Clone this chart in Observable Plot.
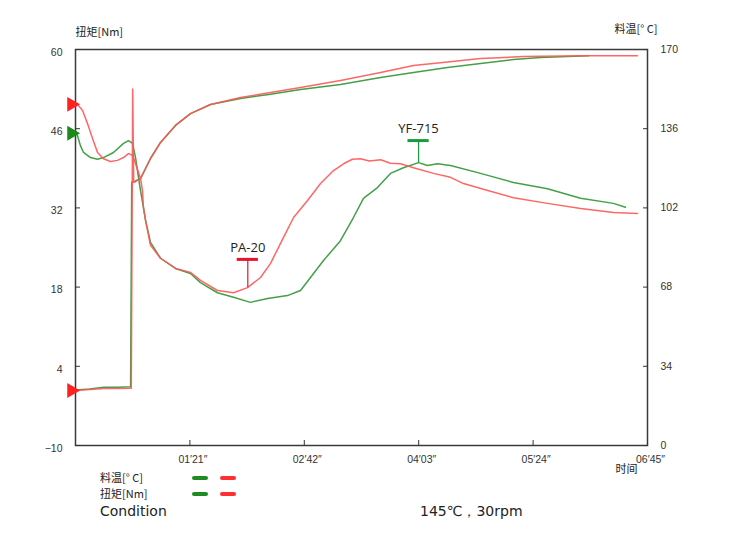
<!DOCTYPE html>
<html><head><meta charset="utf-8">
<script src="https://cdn.jsdelivr.net/npm/d3@7"></script>
<script src="https://cdn.jsdelivr.net/npm/@observablehq/plot@0.6"></script>
<style>
body{margin:0;background:#fff;}
#wrap{position:relative;width:731px;height:545px;background:#fff;}
.lg{position:absolute;font-family:"Noto Sans CJK SC",sans-serif;font-size:11px;color:#222;line-height:1;white-space:nowrap;}
.big{font-family:"DejaVu Sans","Noto Sans",sans-serif;font-size:14px;color:#222;}
.dash{position:absolute;width:16px;height:4px;border-radius:2px;}
</style></head><body><div id="wrap"></div>
<script>
// ---- data (time in seconds, torque in Nm, temperature in °C) ----
const xTicks = [81, 162, 243, 324, 405];
const xTickLabels = ["01′21″", "02′42″", "04′03″", "05′24″", "06′45″"];
const torqueTicks = [-10, 4, 18, 32, 46, 60];
const tempTicks = [0, 34, 68, 102, 136, 170];

const redTorqueT = [0, 1.4, 5.0, 8.5, 12.0, 15.6, 19.8, 24.8, 29.7, 34.0, 37.5, 40.4, 42.5, 44.6, 46.0, 47.4, 48.1, 49.6, 53.1, 60.2, 70.8, 81.4, 88.5, 100.5, 111.9, 121.8, 131.0, 138.1, 147.3, 154.4, 164.3, 173.5, 182.7, 189.8, 196.0, 201.8, 208.0, 216.0, 223.0, 230.1, 239.3, 253.5, 265.5, 274.7, 290.0, 310.1, 334.2, 357.6, 380.9, 397.9];
const redTorqueV = [50.3, 50.3, 49.2, 46.9, 44.3, 41.8, 40.7, 40.2, 40.4, 40.9, 41.6, 41.3, 39.8, 38.3, 37.2, 35.1, 32.1, 29.8, 25.4, 23.1, 21.3, 20.6, 19.2, 17.4, 17.0, 17.9, 19.7, 22.2, 26.8, 30.3, 33.3, 36.3, 38.6, 39.8, 40.6, 40.7, 40.3, 40.5, 39.9, 39.8, 39.1, 38.1, 37.4, 36.3, 35.2, 33.8, 32.8, 31.9, 31.2, 31.0];

const greenTorqueT = [0, 1.4, 3.5, 5.7, 10.6, 15.6, 19.8, 26.9, 34.0, 37.5, 40.4, 42.5, 44.6, 46.0, 48.1, 49.6, 53.1, 60.2, 70.8, 81.4, 88.5, 100.5, 111.9, 123.9, 136.0, 150.1, 159.3, 166.4, 175.6, 187.6, 196.8, 203.9, 213.8, 223.0, 232.2, 242.9, 249.2, 256.3, 265.5, 286.8, 310.1, 334.2, 357.6, 380.9, 389.4];
const greenTorqueV = [45.2, 44.8, 43.0, 41.8, 40.9, 40.6, 40.9, 41.8, 43.4, 43.9, 43.4, 40.9, 37.4, 35.1, 32.1, 29.8, 25.9, 23.1, 21.3, 20.4, 18.8, 17.0, 16.2, 15.3, 16.0, 16.5, 17.4, 19.7, 22.7, 26.2, 30.3, 33.7, 35.6, 38.1, 39.1, 40.0, 39.5, 39.8, 39.5, 38.1, 36.5, 35.4, 33.7, 32.8, 32.1];

const redTempT = [0, 10, 20, 30, 39.5, 40.5, 41.2, 42.0, 44.0, 46.0, 49.6, 53.1, 60.2, 70.8, 81.4, 95.6, 116.8, 138.1, 159.3, 187.6, 216.0, 239.3, 263.4, 286.8, 317.2, 357.6, 397.9];
const redTempV = [23.6, 24.0, 24.5, 24.5, 24.6, 153, 113, 113, 114, 114.6, 118.9, 123.2, 130.1, 137.4, 142.5, 146.4, 149.4, 151.5, 153.7, 156.7, 160.1, 163.1, 164.6, 166.1, 167.0, 167.3, 167.3];

const greenTempT = [0, 10, 20, 30, 39.0, 39.8, 42.0, 44.0, 46.0, 49.6, 53.1, 60.2, 70.8, 81.4, 95.6, 116.8, 138.1, 159.3, 187.6, 216.0, 239.3, 263.4, 286.8, 310.1, 329.3, 363.2];
const greenTempV = [23.8, 24.3, 25.0, 25.0, 25.2, 113, 113.5, 114, 114.6, 118.9, 123.2, 130.1, 137.4, 142.5, 146.4, 149.0, 150.8, 152.8, 155.0, 158.0, 160.1, 162.3, 164.0, 165.7, 166.6, 167.3];

const annNames = ["PA-20", "YF-715"];
const annT = [122, 242.9];
const annCurve = [17.9, 40.0];
const annBar = [22.9, 43.9];
const annText = [25.0, 45.9];

// ---- build ----
const RED = "#ff5757", GREEN = "#43a047";
const toLeft = c => c * 70 / 170 - 10; // temperature onto torque axis
const rows = (T, V, f = v => v) => T.map((t, i) => ({t, v: f(V[i])}));
const ann = annNames.map((name, i) => ({name, t: annT[i], curve: annCurve[i], bar: annBar[i], label: annText[i], c: i === 0 ? "#e8112d" : "#1a9a3c"}));
const starts = [
  {v: redTorqueV[0], c: "#ff2020"},
  {v: greenTorqueV[0], c: "#1a8a1a"},
  {v: toLeft(redTempV[0]), c: "#ff2020"}
];

const chart = Plot.plot({
  width: 731, height: 480,
  marginLeft: 75, marginRight: 84, marginTop: 49, marginBottom: 35,
  x: {domain: [0, 405]},
  y: {domain: [-10, 60]},
  style: {fontFamily: "'Liberation Sans', Arial, sans-serif", fontSize: "10.5px", color: "#333", background: "white"},
  marks: [
    Plot.frame({stroke: "#3a3a3a", strokeWidth: 1.5}),
    Plot.axisY({anchor: "left", ticks: torqueTicks, tickSize: -5, tickFormat: () => "", label: null}),
    Plot.axisY({anchor: "left", ticks: torqueTicks, tickSize: 0, tickPadding: 13, dy: 3, label: null}),
    Plot.axisY({anchor: "right", ticks: torqueTicks, tickSize: -5, tickFormat: () => "", label: null}),
    Plot.axisY({anchor: "right", ticks: torqueTicks, tickSize: 0, tickPadding: 13, label: null,
      tickFormat: d => tempTicks[torqueTicks.indexOf(d)]}),
    Plot.axisX({ticks: xTicks, tickSize: -5, tickFormat: () => "", label: null}),
    Plot.axisX({ticks: xTicks, tickSize: 0, tickPadding: 10, dx: 3, label: null,
      tickFormat: d => xTickLabels[xTicks.indexOf(d)]}),
    Plot.line(rows(greenTempT, greenTempV, toLeft), {x: "t", y: "v", stroke: GREEN, strokeWidth: 1.5}),
    Plot.line(rows(greenTorqueT, greenTorqueV), {x: "t", y: "v", stroke: GREEN, strokeWidth: 1.5}),
    Plot.line(rows(redTempT, redTempV, toLeft), {x: "t", y: "v", stroke: RED, strokeWidth: 1.5, strokeOpacity: 0.9}),
    Plot.line(rows(redTorqueT, redTorqueV), {x: "t", y: "v", stroke: RED, strokeWidth: 1.5, strokeOpacity: 0.9}),
    Plot.dot(starts, {x: 0, y: "v", symbol: "triangle", r: 5.5, rotate: 90, fill: "c", stroke: "none", dx: -4}),
    Plot.ruleX(ann, {x: "t", y1: "curve", y2: "bar", stroke: "c", strokeWidth: 1.2}),
    Plot.ruleY(ann, {y: "bar", x1: d => d.t - 7.5, x2: d => d.t + 7.5, stroke: "c", strokeWidth: 3}),
    Plot.text(ann, {x: "t", y: "label", text: "name", fontSize: 13, fill: "#222", fontFamily: "'Open Sans', sans-serif"}),
    Plot.text(["扭矩[Nm]"], {text: d => d, frameAnchor: "top-left", dy: -21, textAnchor: "start", fontSize: 11, fontFamily: "'Noto Sans CJK SC', sans-serif", fill: "#222"}),
    Plot.text(["料温[° C]"], {text: d => d, frameAnchor: "top-right", dx: 10, dy: -24, textAnchor: "end", fontSize: 11, fontFamily: "'Noto Sans CJK SC', sans-serif", fill: "#222"}),
    Plot.text(["时间"], {text: d => d, frameAnchor: "bottom-right", dx: -32, dy: 27, textAnchor: "start", fontSize: 11, fontFamily: "'Noto Sans CJK SC', sans-serif", fill: "#222"})
  ]
});
const wrap = document.getElementById("wrap");
wrap.appendChild(chart);

// ---- legend below ----
const legendRows = ["料温[° C]", "扭矩[Nm]"];
legendRows.forEach((label, i) => {
  const top = 472 + i * 16;
  const s = document.createElement("div");
  s.className = "lg"; s.style.left = "100px"; s.style.top = top + "px"; s.textContent = label;
  wrap.appendChild(s);
  [["#1f8a1f", 192], ["#ff2f2f", 220]].forEach(([col, x]) => {
    const d = document.createElement("div");
    d.className = "dash"; d.style.left = x + "px"; d.style.top = (top + 4) + "px"; d.style.background = col;
    wrap.appendChild(d);
  });
});
const cond = document.createElement("div");
cond.className = "lg big"; cond.style.left = "100px"; cond.style.top = "504px"; cond.textContent = "Condition";
wrap.appendChild(cond);
const cval = document.createElement("div");
cval.className = "lg big"; cval.style.left = "420px"; cval.style.top = "504px"; cval.textContent = "145℃，30rpm";
wrap.appendChild(cval);
</script></body></html>
